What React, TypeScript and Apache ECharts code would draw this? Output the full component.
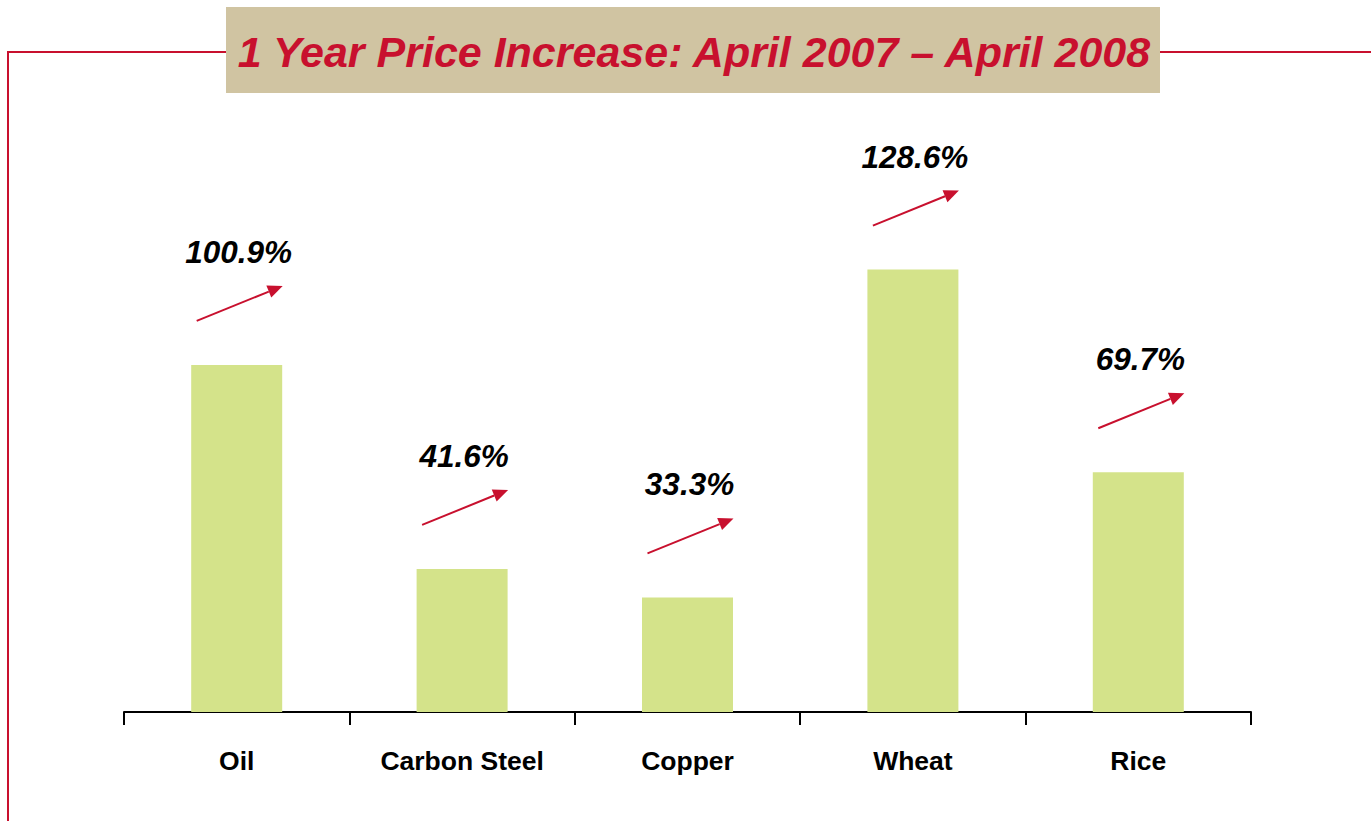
import React, { useEffect, useRef } from "react";
import * as echarts from "echarts";

const categories = ["Oil", "Carbon Steel", "Copper", "Wheat", "Rice"];
const increases = [100.9, 41.6, 33.3, 128.6, 69.7];
const titleText = "1 Year Price Increase: April 2007 \u2013 April 2008";

const RED = "#C8102E";
const BAR = "#D4E38A";
const BEIGE = "#D0C4A2";

export default function App() {
  const ref = useRef<HTMLDivElement>(null);
  useEffect(() => {
    if (!ref.current) return;
    document.body.style.margin = "0";
    document.body.style.overflow = "hidden";
    const chart = echarts.init(ref.current, undefined, { renderer: "svg" });
    chart.setOption({
      animation: false,
      backgroundColor: "#ffffff",
      grid: { left: 124, right: 120, top: 196, bottom: 109, containLabel: false },
      xAxis: {
        type: "category",
        data: categories,
        boundaryGap: true,
        axisLine: { lineStyle: { color: "#000", width: 2 } },
        axisTick: { show: true, length: 13, lineStyle: { color: "#000", width: 2 } },
        axisLabel: {
          margin: 35,
          color: "#000",
          fontFamily: "Liberation Sans, Arial, sans-serif",
          fontWeight: "bold",
          fontSize: 26.5,
        },
      },
      yAxis: {
        type: "value",
        min: 0,
        max: 150,
        show: false,
        splitLine: { show: false },
      },
      series: [
        {
          type: "bar",
          data: increases,
          barWidth: 91,
          itemStyle: { color: BAR },
          label: {
            show: true,
            position: "top",
            distance: 97,
            offset: [2, 0],
            formatter: "{c}%",
            color: "#000",
            fontFamily: "Liberation Sans, Arial, sans-serif",
            fontWeight: "bold",
            fontStyle: "italic",
            fontSize: 31.5,
          },
        },
        {
          type: "custom",
          data: increases.map((v, i) => [i, v]),
          z: 5,
          renderItem: (params: any, api: any) => {
            const p = api.coord([api.value(0), api.value(1)]);
            const x1 = p[0] - 40;
            const y1 = p[1] - 44;
            const x2 = p[0] + 46;
            const y2 = p[1] - 79;
            const dx = x2 - x1;
            const dy = y2 - y1;
            const len = Math.sqrt(dx * dx + dy * dy);
            const ux = dx / len;
            const uy = dy / len;
            const hl = 15;
            const hw = 6.5;
            const bx = x2 - ux * hl;
            const by = y2 - uy * hl;
            return {
              type: "group",
              children: [
                {
                  type: "line",
                  shape: { x1, y1, x2: bx, y2: by },
                  style: { stroke: RED, lineWidth: 2 },
                },
                {
                  type: "polygon",
                  shape: {
                    points: [
                      [x2, y2],
                      [bx - uy * hw, by + ux * hw],
                      [bx + uy * hw, by - ux * hw],
                    ],
                  },
                  style: { fill: RED },
                },
              ],
            };
          },
        },
      ],
      graphic: [
        {
          type: "polyline",
          shape: { points: [[226, 52], [8, 52], [8, 830]] },
          style: { stroke: RED, lineWidth: 2, fill: "none" },
        },
        {
          type: "line",
          shape: { x1: 1160, y1: 52, x2: 1380, y2: 52 },
          style: { stroke: RED, lineWidth: 2 },
        },
        {
          type: "rect",
          shape: { x: 226, y: 7, width: 934, height: 86 },
          style: { fill: BEIGE },
        },
        {
          type: "text",
          x: 694,
          y: 52,
          style: {
            text: titleText,
            fill: RED,
            font: "italic bold 43px 'Liberation Sans', Arial, sans-serif",
            align: "center",
            verticalAlign: "middle",
          },
        },
      ],
    });
    return () => chart.dispose();
  }, []);
  return (
    <div
      ref={ref}
      style={{ position: "fixed", left: 0, top: 0, width: 1371, height: 821 }}
    />
  );
}
